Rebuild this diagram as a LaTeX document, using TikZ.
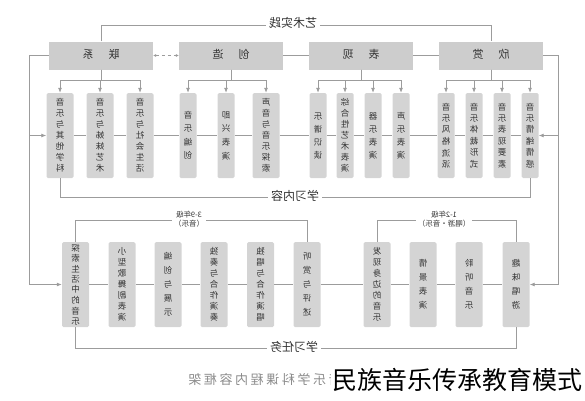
\documentclass[tikz,border=0pt]{standalone}
\usepackage{fontspec}
\setmainfont{Noto Sans CJK SC}
\usepackage{graphicx}
\usepackage{xcolor}
\usetikzlibrary{positioning,arrows.meta}

\definecolor{boxgray}{HTML}{D4D4D4}
\definecolor{hdrgray}{HTML}{CDCDCD}
\definecolor{linegray}{HTML}{9C9C9C}
\definecolor{txtgray}{HTML}{333333}
\definecolor{capgray}{HTML}{8A8A8A}

% mirrored text, one or more lines
\newcommand\mtext[1]{\reflectbox{\begin{tabular}{@{}c@{}}#1\end{tabular}}}
% mirrored column of characters
\newlength\vcolstep
\newcommand\vcol[2][11pt]{\setlength\vcolstep{#1}\vbox{\offinterlineskip\vcolloop#2\relax}}
\def\vcolloop#1{\ifx\relax#1\else\vbox to\vcolstep{\vss\hbox to 12pt{\hss\reflectbox{#1}\hss}\vss}\expandafter\vcolloop\fi}

\begin{document}
\begin{tikzpicture}[x=1pt,y=-1pt,
  hdr/.style={fill=hdrgray,minimum width=104pt,minimum height=28pt,inner sep=0pt,font=\fontsize{11}{13}\selectfont,text=txtgray},
  cell/.style={fill=boxgray,rounded corners=1.5pt,minimum height=85pt,inner sep=0pt,font=\fontsize{8.5}{10}\selectfont,text=txtgray},
  cellS/.style={cell,minimum width=17pt},
  cellW/.style={cell,minimum width=27pt},
  tag/.style={fill=white,inner sep=3pt,font=\fontsize{12}{14}\selectfont,text=txtgray},
  grp/.style={fill=white,inner sep=2pt,font=\fontsize{7.5}{9}\selectfont,text=txtgray},
  wire/.style={draw=linegray,line width=0.8pt},
  arr/.style={wire,-{Latex[length=5pt,width=4pt]}}
]
\useasboundingbox (0,0) rectangle (585,400);

% headers
\node[hdr] (hLX) at (101,55.5) {\mtext{联\hspace{15pt}系}};
\node[hdr] (hCZ) at (231,55.5) {\mtext{创\hspace{15pt}造}};
\node[hdr] (hBX) at (361,55.5) {\mtext{表\hspace{15pt}现}};
\node[hdr] (hXS) at (491,55.5) {\mtext{欣\hspace{15pt}赏}};

% learning content
\node[cellW] (t1) at (60,135.5) {\vcol{音乐与其他学科}};
\node[cellW] (t2) at (100,135.5) {\vcol{音乐与姊妹艺术}};
\node[cellW] (t3) at (140,135.5) {\vcol{音乐与社会生活}};
\node[cellS] (t4) at (188,135.5) {\vcol[13.5pt]{音乐编创}};
\node[cellS] (t5) at (226,135.5) {\vcol[13.5pt]{即兴表演}};
\node[cellW] (t6) at (266,135.5) {\vcol{声音与音乐探索}};
\node[cellS] (t7) at (318,135.5) {\vcol[13pt]{乐谱识读}};
\node[cellS] (t8) at (345,135.5) {\vcol{综合性艺术表演}};
\node[cellS] (t9) at (373,135.5) {\vcol[13pt]{器乐表演}};
\node[cellS] (t10) at (401,135.5) {\vcol[13pt]{声乐表演}};
\node[cellS] (t11) at (446,135.5) {\vcol[11.5pt]{音乐风格流派}};
\node[cellS] (t12) at (474,135.5) {\vcol[11.5pt]{音乐体裁形式}};
\node[cellS] (t13) at (502,135.5) {\vcol[11.5pt]{音乐表现要素}};
\node[cellS] (t14) at (530,135.5) {\vcol[11.5pt]{音乐情绪情感}};

% learning tasks
\node[cellW] (b1) at (75.5,284.5) {\vcol[10.5pt]{探索生活中的音乐}};
\node[cellW] (b2) at (122,284.5) {\vcol{小型歌舞剧表演}};
\node[cellW] (b3) at (168,284.5) {\vcol[14pt]{编创与展示}};
\node[cellW] (b4) at (214,284.5) {\vcol{独奏与合作演奏}};
\node[cellW] (b5) at (260.5,284.5) {\vcol{独唱与合作演唱}};
\node[cellW] (b6) at (307,284.5) {\vcol[14pt]{听赏与评述}};
\node[cellW] (b7) at (377,284.5) {\vcol{发现身边的音乐}};
\node[cellW] (b8) at (423,284.5) {\vcol[14pt]{情景表演}};
\node[cellW] (b9) at (469,284.5) {\vcol[14pt]{聆听音乐}};
\node[cellW] (b10) at (516,284.5) {\vcol[14pt]{趣味唱游}};

% header to content
\foreach \h/\l in {hLX/{t1,t2,t3},hCZ/{t4,t5,t6},hBX/{t7,t8,t9,t10},hXS/{t11,t12,t13,t14}}
  \foreach \t in \l \draw[arr] (\h.south) -- ++(0,11) -| (\t.north);

\draw[wire,dashed,{Latex[length=3pt,width=3pt]}-{Latex[length=3pt,width=3pt]}] (hLX.east) -- (hCZ.west);
\draw[wire] (hCZ.east) -- (hBX.west);
\draw[wire] (hBX.east) -- (hXS.west);

% art practice
\node[tag] (lSJ) at (293,25) {\mtext{艺术实践}};
\draw[wire] (hLX.north) |- (lSJ.west);
\draw[wire] (lSJ.east) -| (hXS.north);

% side rails
\coordinate (lTop) at (29,55.5);
\coordinate (lBot) at (29,284.5);
\coordinate (rTop) at (558,55.5);
\coordinate (rBot) at (558,284.5);
\draw[arr] (hLX.west) -- (lTop) -- (lBot) -- (b1.west);
\draw[arr] (lTop |- t1.west) -- (t1.west);
\draw[arr] (hXS.east) -- (rTop) -- (rBot) -- (b10.east);
\draw[arr] (rTop |- t14.east) -- (t14.east);

% rows
\foreach \a/\b in {t1/t2,t2/t3,t3/t4,t4/t5,t5/t6,t6/t7,t7/t8,t8/t9,t9/t10,t10/t11,t11/t12,t12/t13,t13/t14,
  b1/b2,b2/b3,b3/b4,b4/b5,b5/b6,b6/b7,b7/b8,b8/b9,b9/b10}
  \draw[wire] (\a.east) -- (\b.west);

% brackets
\node[tag] (lNR) at (295,197) {\mtext{学习内容}};
\draw[wire] (t1.south) |- (lNR.west);
\draw[wire] (lNR.east) -| (t14.south);

\node[tag] (lRW) at (294,348) {\mtext{学习任务}};
\draw[wire] (b1.south) |- (lRW.west);
\draw[wire] (lRW.east) -| (b10.south);

\node[grp] (g39) at (189,220.5) {\mtext{3-9年级\\（音乐）}};
\draw[wire] (b1.north) |- (g39.west);
\draw[wire] (g39.east) -| (b6.north);

\node[grp] (g12) at (444,220.5) {\mtext{1-2年级\\（唱游·音乐）}};
\draw[wire] (b7.north) |- (g12.west);
\draw[wire] (g12.east) -| (b10.north);

% caption
\node[font={\fontsize{13}{15}\selectfont\addfontfeature{LetterSpace=20}},text=capgray] (capM) at (265,380) {\reflectbox{音乐学科课程内容框架}};
\node[anchor=west,fill=white,inner sep=1pt,font=\fontsize{25}{28}\selectfont] (capT) at (331,380) {民族音乐传承教育模式};
\end{tikzpicture}
\end{document}
